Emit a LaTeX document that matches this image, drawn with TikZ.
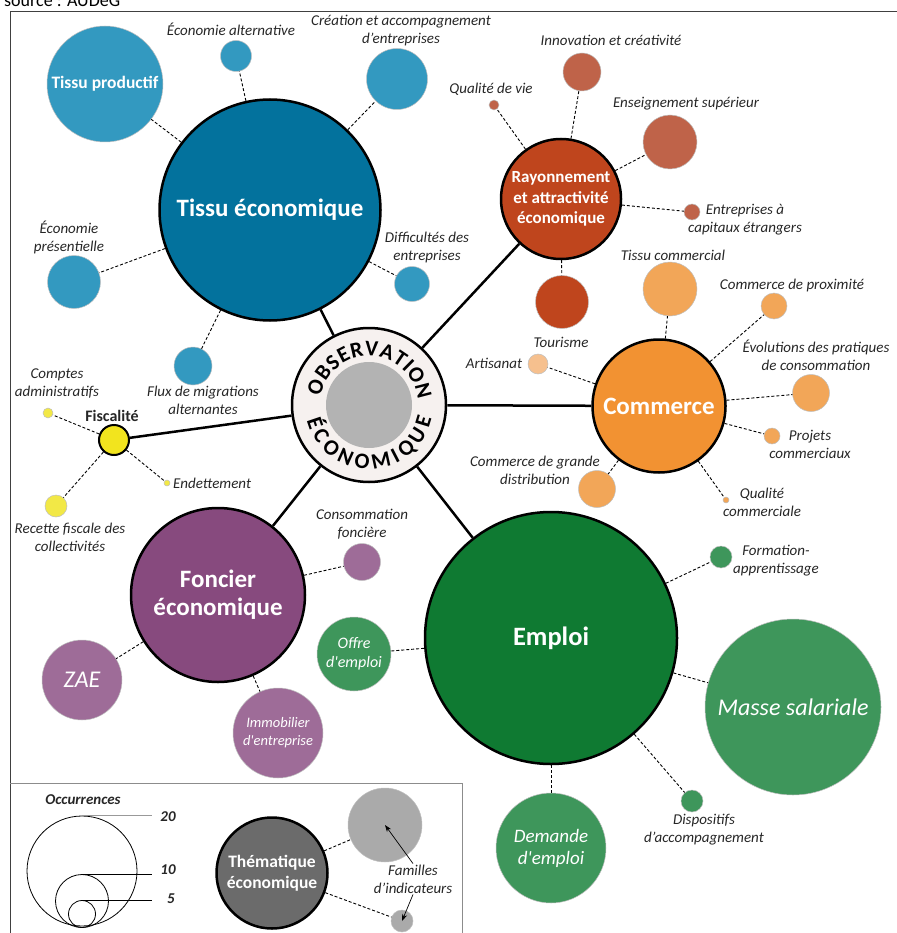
\documentclass[tikz,border=0pt]{standalone}
\usepackage{fontspec}
\setmainfont{Carlito}
\usetikzlibrary{arrows.meta,decorations.text}

\definecolor{tisdark}{RGB}{3,114,157}
\definecolor{tislight}{RGB}{51,153,192}
\definecolor{raydark}{RGB}{191,69,29}
\definecolor{raylight}{RGB}{191,99,73}
\definecolor{comdark}{RGB}{242,146,50}
\definecolor{comlight}{RGB}{242,166,88}
\definecolor{compale}{RGB}{246,192,142}
\definecolor{fiscdark}{RGB}{242,228,30}
\definecolor{fisclight}{RGB}{242,232,70}
\definecolor{foncdark}{RGB}{135,74,126}
\definecolor{fonclight}{RGB}{158,108,152}
\definecolor{empdark}{RGB}{15,122,50}
\definecolor{emplight}{RGB}{62,150,91}
\definecolor{legdark}{RGB}{107,107,107}
\definecolor{leglight}{RGB}{170,170,170}
\definecolor{obsring}{RGB}{246,241,239}
\definecolor{obsgray}{RGB}{179,179,179}

\newcommand{\obsfont}{\bfseries\fontsize{22}{22}\selectfont}

\begin{document}
\begin{tikzpicture}[x=1pt, y=-1pt,
    bubble/.style={circle, inner sep=0pt, align=center, text=white, draw=black!25, line width=0.5pt},
    theme/.style={circle, inner sep=0pt, align=center, text=white, draw=black, line width=2.5pt, font=\bfseries\fontsize{25}{28}\selectfont},
    lbl/.style={align=center, text=black!85, inner sep=1pt, font=\itshape\fontsize{15}{18}\selectfont},
    spoke/.style={line width=2.5pt},
    link/.style={dash pattern=on 3pt off 2pt, line width=0.9pt}]
    \useasboundingbox (0,0) rectangle (896,933);

    % Frame and source
    \draw[black!75, line width=1pt] (10,12) rectangle (910,950);
    \node[anchor=base west, inner sep=0pt, font=\fontsize{18}{20}\selectfont] (source) at (4,7) {source : AUDeG};

    % Define the nodes
    \node[circle, draw=black, line width=2.5pt, fill=obsring, minimum size=154pt] (obs) at (369,405) {};
    \node[circle, fill=obsgray, minimum size=86pt] (obsin) at (369,405) {};

    \node[theme, fill=tisdark, minimum size=221pt] (tissu) at (270,210) {Tissu économique};
    \node[bubble, fill=tislight, minimum size=116pt, font=\bfseries\fontsize{17.5}{20}\selectfont] (prod) at (105,84) {Tissu productif};
    \node[bubble, fill=tislight, minimum size=31pt] (ecoalt) at (236,56) {};
    \node[bubble, fill=tislight, minimum size=61pt] (creation) at (397,79) {};
    \node[bubble, fill=tislight, minimum size=53pt] (presen) at (74,282) {};
    \node[bubble, fill=tislight, minimum size=35pt] (diffic) at (412,284) {};
    \node[bubble, fill=tislight, minimum size=38pt] (flux) at (193,366) {};

    \node[theme, fill=raydark, minimum size=120pt, font=\bfseries\fontsize{17}{20.5}\selectfont] (ray) at (561,199) {Rayonnement\\et attractivité\\économique};
    \node[bubble, fill=raylight, minimum size=38pt] (innov) at (582,72) {};
    \node[bubble, fill=raylight, minimum size=10pt] (qualvie) at (494,105) {};
    \node[bubble, fill=raylight, minimum size=54pt] (enseig) at (670,142) {};
    \node[bubble, fill=raylight, minimum size=16pt] (entcap) at (692,212) {};
    \node[bubble, fill=raydark, minimum size=53pt] (touris) at (562,302) {};

    \node[theme, fill=comdark, minimum size=133pt] (comm) at (659,406) {Commerce};
    \node[bubble, fill=comlight, minimum size=54pt] (tissucom) at (670,289) {};
    \node[bubble, fill=comlight, minimum size=26pt] (proxi) at (774,306) {};
    \node[bubble, fill=comlight, minimum size=37pt] (evol) at (811,393) {};
    \node[bubble, fill=comlight, minimum size=16pt] (projets) at (772,436) {};
    \node[bubble, fill=comlight, minimum size=6pt] (qualcom) at (726,500) {};
    \node[bubble, fill=comlight, minimum size=37pt] (grande) at (597,489) {};
    \node[bubble, fill=compale, minimum size=20pt] (artisan) at (538,364) {};

    \node[circle, draw=black, line width=2pt, fill=fiscdark, minimum size=30pt] (fisc) at (114,440) {};
    \node[bubble, fill=fisclight, minimum size=10pt] (comptes) at (48,413) {};
    \node[bubble, fill=fisclight, minimum size=6pt] (endet) at (167,483) {};
    \node[bubble, fill=fisclight, minimum size=22pt] (recette) at (56,506) {};

    \node[theme, fill=foncdark, minimum size=174pt] (fonc) at (218,595) {Foncier\\économique};
    \node[bubble, fill=fonclight, minimum size=37pt] (conso) at (362,562) {};
    \node[bubble, fill=fonclight, minimum size=80pt, font=\itshape\fontsize{24}{26}\selectfont] (zae) at (82,680) {ZAE};
    \node[bubble, fill=fonclight, minimum size=90pt, font=\itshape\fontsize{14.5}{18}\selectfont] (immo) at (278,733) {Immobilier\\d\textquotesingle entreprise};

    \node[theme, fill=empdark, minimum size=252pt, font=\bfseries\fontsize{26.5}{28}\selectfont] (emploi) at (551,638) {Emploi};
    \node[bubble, fill=emplight, minimum size=74pt, font=\itshape\fontsize{16}{19}\selectfont] (offre) at (354,654) {Offre\\d\textquotesingle emploi};
    \node[bubble, fill=emplight, minimum size=22pt] (forma) at (721,557) {};
    \node[bubble, fill=emplight, minimum size=176pt, font=\itshape\fontsize{24}{26}\selectfont] (masse) at (793,707) {Masse salariale};
    \node[bubble, fill=emplight, minimum size=22pt] (dispo) at (692,801) {};
    \node[bubble, fill=emplight, minimum size=110pt, font=\itshape\fontsize{19}{22}\selectfont] (demande) at (551,848) {Demande\\d\textquotesingle emploi};

    % Labels
    \node[lbl] (ecoaltl) at (231,29) {Économie alternative};
    \node[lbl] (creationl) at (401,31) {Création et accompagnement\\d’entreprises};
    \node[lbl] (presenl) at (69,237) {Économie\\présentielle};
    \node[lbl] (difficl) at (427,248) {Difficultés des\\entreprises};
    \node[lbl] (fluxl) at (203,400) {Flux de migrations\\alternantes};
    \node[lbl] (innovl) at (611,40) {Innovation et créativité};
    \node[lbl] (qualviel) at (491,89) {Qualité de vie};
    \node[lbl] (enseigl) at (686,104) {Enseignement supérieur};
    \node[lbl] (entcapl) at (745,220) {Entreprises à\\capitaux étrangers};
    \node[lbl] (tourisl) at (561,342) {Tourisme};
    \node[lbl] (tissucoml) at (673,255) {Tissu commercial};
    \node[lbl] (proxil) at (792,285) {Commerce de proximité};
    \node[lbl] (evoll) at (816,355) {Évolutions des pratiques\\de consommation};
    \node[lbl] (projetsl) at (810,444) {Projets\\commerciaux};
    \node[lbl] (qualcoml) at (762,502) {Qualité\\commerciale};
    \node[lbl] (grandel) at (535,470) {Commerce de grande\\distribution};
    \node[lbl] (artisanl) at (494,363) {Artisanat};
    \node[lbl, font=\bfseries\fontsize{16}{18}\selectfont] (fiscl) at (112,416) {Fiscalité};
    \node[lbl] (comptesl) at (57,384) {Comptes\\administratifs};
    \node[lbl, anchor=west] (endetl) at (172,483) {Endettement};
    \node[lbl] (recettel) at (70,537) {Recette fiscale des\\collectivités};
    \node[lbl] (consol) at (362,524) {Consommation\\foncière};
    \node[lbl] (formal) at (776,561) {Formation-\\apprentissage};
    \node[lbl] (dispol) at (704,830) {Dispositifs\\d’accompagnement};

    % Draw the edges
    \draw[spoke] (obs) -- (tissu);
    \draw[spoke] (obs) -- (ray);
    \draw[spoke] (obs) -- (comm);
    \draw[spoke] (obs) -- (emploi);
    \draw[spoke] (obs) -- (fonc);
    \draw[spoke] (obs) -- (fisc);

    \draw[link] (tissu) -- (prod);
    \draw[link] (tissu) -- (ecoalt);
    \draw[link] (tissu) -- (creation);
    \draw[link] (tissu) -- (presen);
    \draw[link] (tissu) -- (diffic);
    \draw[link] (tissu) -- (flux);

    \draw[link] (ray) -- (innov);
    \draw[link] (ray) -- (qualvie);
    \draw[link] (ray) -- (enseig);
    \draw[link] (ray) -- (entcap);
    \draw[link] (ray) -- (touris);

    \draw[link] (comm) -- (tissucom);
    \draw[link] (comm) -- (proxi);
    \draw[link] (comm) -- (evol);
    \draw[link] (comm) -- (projets);
    \draw[link] (comm) -- (qualcom);
    \draw[link] (comm) -- (grande);
    \draw[link] (comm) -- (artisan);

    \draw[link] (fisc) -- (comptes);
    \draw[link] (fisc) -- (endet);
    \draw[link] (fisc) -- (recette);

    \draw[link] (fonc) -- (conso);
    \draw[link] (fonc) -- (zae);
    \draw[link] (fonc) -- (immo);

    \draw[link] (emploi) -- (offre);
    \draw[link] (emploi) -- (forma);
    \draw[link] (emploi) -- (masse);
    \draw[link] (emploi) -- (dispo);
    \draw[link] (emploi) -- (demande);

    % Centre text
    \begin{scope}[shift={(obs.center)}, x=1pt, y=1pt]
        \path[decorate, decoration={text along path, text align={fit to path}, text={|\obsfont|OBSERVATION}}]
            (170:49pt) arc[start angle=170, end angle=6, radius=49pt];
        \path[decorate, decoration={text along path, text align={fit to path}, text={|\obsfont|ÉCONOMIQUE}}]
            (194:64pt) arc[start angle=194, end angle=348, radius=64pt];
    \end{scope}

    % Legend
    \draw[black!45, line width=1pt] (10,783) -- (462,783) -- (462,950);
    \node[lbl, font=\bfseries\itshape\fontsize{15}{18}\selectfont] (occ) at (83,800) {Occurrences};
    \node[circle, draw=black, line width=0.8pt, minimum size=110pt] (c20) at (82,871) {};
    \node[circle, draw=black, line width=0.8pt, minimum size=53pt] (c10) at (82,901) {};
    \node[circle, draw=black, line width=0.8pt, minimum size=27pt] (c5) at (82,914) {};
    \node[lbl, font=\bfseries\itshape\fontsize{15}{18}\selectfont] (n20) at (168,817) {20};
    \node[lbl, font=\bfseries\itshape\fontsize{15}{18}\selectfont] (n10) at (168,870) {10};
    \node[lbl, font=\bfseries\itshape\fontsize{15}{18}\selectfont] (n5) at (171,899) {5};
    \draw[black!40, line width=0.8pt] (c20.north) -- ++(70,0);
    \draw[line width=0.8pt] (c10.north) -- ++(70,0);
    \draw[line width=0.8pt] (c5.north) -- ++(70,0);

    \node[theme, fill=legdark, minimum size=111pt, font=\bfseries\fontsize{17.5}{21}\selectfont] (them) at (272,873) {Thématique\\économique};
    \node[bubble, fill=leglight, minimum size=74pt] (gbig) at (385,825) {};
    \node[bubble, fill=leglight, minimum size=22pt] (gsmall) at (402,921) {};
    \node[lbl] (fam) at (413,879) {Familles\\d’indicateurs};
    \draw[link] (them) -- (gbig);
    \draw[link] (them) -- (gsmall);
    \draw[-{Stealth[length=7pt, width=5pt]}, line width=0.7pt] (fam.north) -- (gbig.center);
    \draw[-{Stealth[length=7pt, width=5pt]}, line width=0.7pt] (fam.south) -- (gsmall.center);
\end{tikzpicture}
\end{document}
